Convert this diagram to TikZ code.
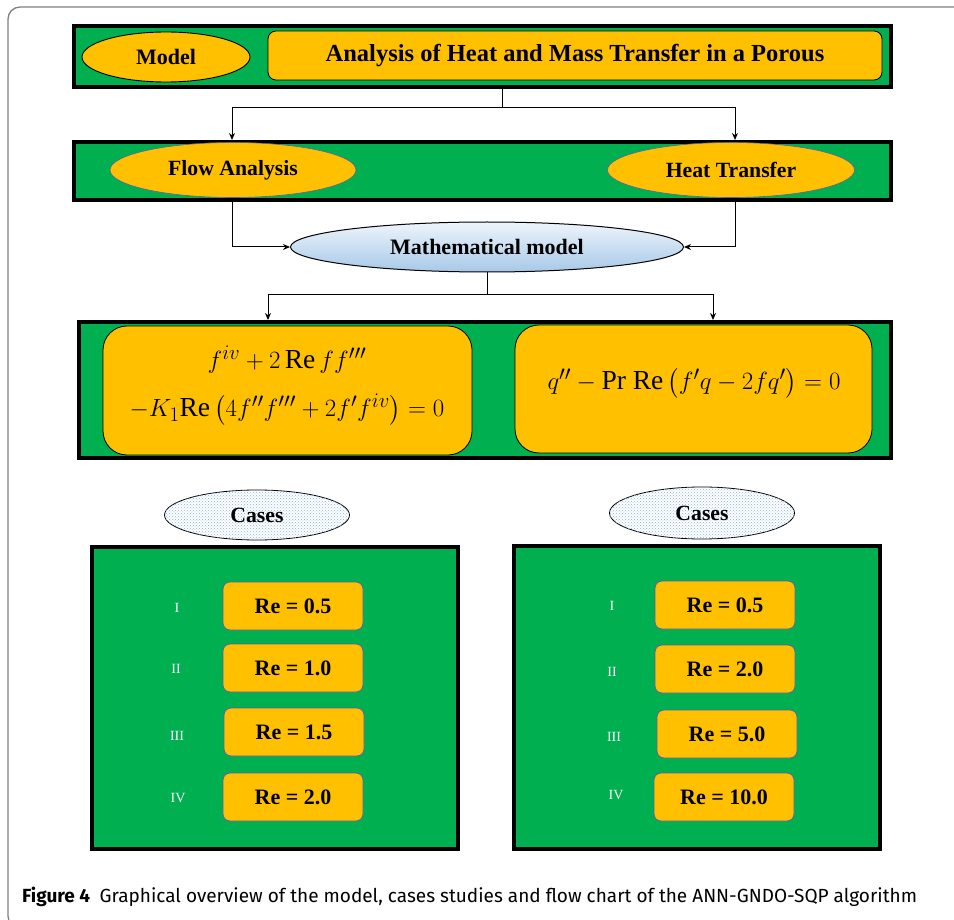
\documentclass[tikz,border=0pt]{standalone}
\usepackage{fontspec}
\setmainfont{Liberation Serif}
\newfontfamily\capfont{Fira Sans}
\usepackage{amsmath}
\usetikzlibrary{shapes.geometric,patterns,arrows.meta}
\definecolor{grn}{HTML}{00B050}
\definecolor{org}{HTML}{FFC000}
\definecolor{lblue}{HTML}{8DB4E2}
\definecolor{topblue}{HTML}{EEF5FB}
\definecolor{botblue}{HTML}{A7C8E8}
\definecolor{bord}{HTML}{5A5FA8}
\definecolor{frame}{HTML}{808080}
\tikzset{
  band/.style={draw=black, line width=4pt, fill=grn, inner sep=0pt},
  titlebox/.style={draw=black, line width=0.8pt, fill=org, rounded corners=8pt, inner sep=0pt},
  eqbox/.style={draw=black, line width=0.8pt, fill=org, rounded corners=24pt, inner sep=0pt},
  orgell/.style={ellipse, draw=bord, line width=0.6pt, fill=org, inner sep=0pt},
  blkell/.style={ellipse, draw=black, line width=0.9pt, fill=org, inner sep=0pt},
  mathell/.style={ellipse, draw=black, line width=1pt, top color=topblue, bottom color=botblue, inner sep=0pt},
  caseell/.style={ellipse, draw=black, line width=0.8pt, fill=white, inner sep=0pt,
     postaction={pattern=crosshatch dots, pattern color=lblue}},
  rebox/.style={draw=bord, line width=0.8pt, fill=org, rounded corners=7pt, inner sep=0pt,
     minimum width=140pt, minimum height=48pt, font=\fontsize{22}{26}\selectfont\bfseries},
  roman/.style={text=white, font=\fontsize{14}{16}\selectfont},
  lbl/.style={font=\fontsize{21.7}{26}\selectfont\bfseries},
  eqtxt/.style={font=\fontsize{27.5}{31}\selectfont},
  link/.style={line width=1pt, black},
  arr/.style={line width=1pt, black, -{Stealth[length=7pt,width=6pt]}}
}
\begin{document}
\begin{tikzpicture}[x=1pt,y=-1pt]
\clip (0,0) rectangle (954,920);
\fill[white] (0,0) rectangle (954,920);
% outer frame
\draw[frame, line width=1.3pt, rounded corners=12pt] (960,7) -- (8,7) -- (8,928) -- (60,928);

% top band
\node[band, minimum width=817pt, minimum height=61pt] (band1) at (482.5,56.5) {};
\node[blkell, minimum width=168pt, minimum height=50pt, font=\fontsize{22}{26}\selectfont\bfseries] (model) at (166,57) {Model};
\node[titlebox, minimum width=614pt, minimum height=49pt, font=\fontsize{24.5}{28}\selectfont\bfseries] (title) at (575,55.5) {Analysis of Heat and Mass Transfer in a Porous};

% second band
\node[band, minimum width=817pt, minimum height=58pt] (band2) at (482.5,171) {};
\node[orgell, minimum width=246pt, minimum height=55pt, lbl] (flow) at (233,170) {Flow Analysis};
\node[orgell, minimum width=247pt, minimum height=55pt, lbl] (heat) at (731,170) {Heat Transfer};

\coordinate (j1) at (502,108);
\coordinate (c1L) at (232,0);
\coordinate (c1R) at (735,0);
\draw[link] (band1.south -| j1) -- (j1);
\draw[arr] (j1) -| (band2.north -| c1L);
\draw[arr] (j1) -| (band2.north -| c1R);

% mathematical model
\node[mathell, minimum width=393pt, minimum height=50pt, font=\fontsize{22}{26}\selectfont\bfseries] (math) at (487,247) {Mathematical model};
\draw[arr] (band2.south -| c1L) |- (math.west);
\draw[arr] (band2.south -| c1R) |- (math.east);

% third band
\node[band, minimum width=812pt, minimum height=136pt] (band3) at (485,390) {};
\node[eqbox, minimum width=369pt, minimum height=129pt] (eqL) at (287.5,390.5) {};
\node[eqbox, minimum width=357pt, minimum height=128pt] (eqR) at (693.5,389) {};
\node[eqtxt] (eqL1) at (287,360) {$f^{iv}+2\,\mathrm{Re}\,f f'''$};
\node[eqtxt] (eqL2) at (287,410) {$-K_1\mathrm{Re}\left(4f''f'''+2f'f^{iv}\right)=0$};
\node[eqtxt] (eqR1) at (694,383) {$q''-\mathrm{Pr}\ \mathrm{Re}\left(f'q-2fq'\right)=0$};

\coordinate (j2) at (487,295);
\coordinate (c2L) at (268,0);
\coordinate (c2R) at (713,0);
\draw[link] (math.south) -- (j2);
\draw[arr] (j2) -| (band3.north -| c2L);
\draw[arr] (j2) -| (band3.north -| c2R);

% cases
\node[caseell, minimum width=185pt, minimum height=50pt, lbl] (casesL) at (257,515) {Cases};
\node[caseell, minimum width=185pt, minimum height=52pt, lbl] (casesR) at (702,513) {Cases};

\node[band, minimum width=366pt, minimum height=302pt] (boxL) at (275,698) {};
\node[band, minimum width=366pt, minimum height=303pt] (boxR) at (697,697.5) {};

\node[rebox] (l1) at (293,606) {Re = 0.5};
\node[rebox] (l2) at (293,668) {Re = 1.0};
\node[rebox] (l3) at (294,732) {Re = 1.5};
\node[rebox] (l4) at (293,797) {Re = 2.0};
\node[roman] (rl1) at (177,608) {I};
\node[roman] (rl2) at (176,669) {II};
\node[roman] (rl3) at (177,736) {III};
\node[roman] (rl4) at (178,798) {IV};

\node[rebox] (r1) at (725,605) {Re = 0.5};
\node[rebox] (r2) at (725,669) {Re = 2.0};
\node[rebox] (r3) at (727,734) {Re = 5.0};
\node[rebox] (r4) at (724,797) {Re = 10.0};
\node[roman] (rr1) at (612,606) {I};
\node[roman] (rr2) at (612,672) {II};
\node[roman] (rr3) at (614,737) {III};
\node[roman] (rr4) at (616,795) {IV};

% caption
\node[anchor=base west, inner sep=0pt, font=\capfont\fontsize{19}{22}\selectfont] (cap) at (22,902)
  {\textbf{Figure 4}\hspace{0.5em}Graphical overview of the model, cases studies and flow chart of the ANN-GNDO-SQP algorithm};
\end{tikzpicture}
\end{document}
